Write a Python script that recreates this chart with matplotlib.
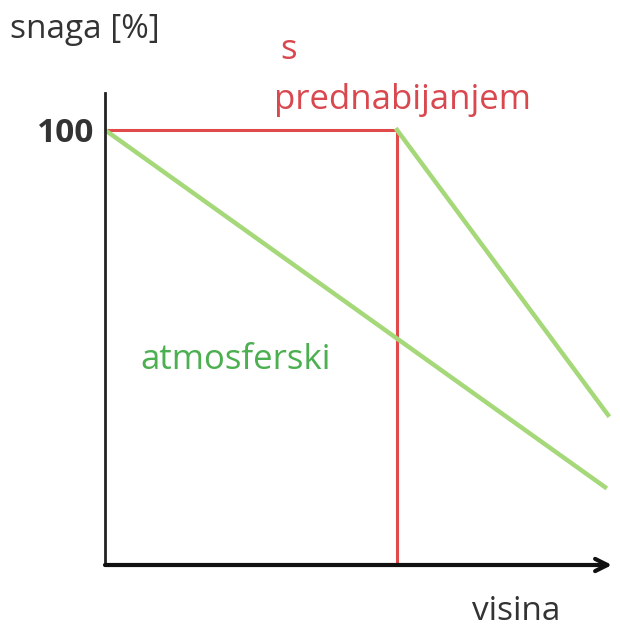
import matplotlib.pyplot as plt

# visina (arbitrary units) and snaga [%]
turbo_x = [0, 58.4, 58.4]
turbo_y = [100, 100, 0]
atmos_x = [0, 100]
atmos_y = [100, 17.9]
turbo_drop_x = [58.4, 100.6]
turbo_drop_y = [100, 34.5]
y_ticks = [100]
y_tick_labels = ["100"]

plt.rcParams['font.family'] = ['Open Sans', 'DejaVu Sans']

fig = plt.figure(figsize=(6.2, 6.28), dpi=100)
ax = fig.add_axes([105 / 620, 63 / 628, 507 / 620, 472 / 628])
ax.set_xlim(0, 101.4)
ax.set_ylim(0, 108.5)

ax.plot(turbo_x, turbo_y, color="#e04a4a", lw=2.2, solid_capstyle="butt")
ax.plot(atmos_x, atmos_y, color="#a5d879", lw=3.2)
ax.plot(turbo_drop_x, turbo_drop_y, color="#a5d879", lw=3.2)

for s in ["top", "right", "bottom"]:
    ax.spines[s].set_visible(False)
ax.spines["left"].set_linewidth(2)
ax.spines["left"].set_color("#222222")
ax.annotate("", xy=(101.4, 0), xytext=(0, 0), annotation_clip=False,
            arrowprops=dict(arrowstyle="->", color="#111111", lw=3,
                            mutation_scale=22, shrinkA=0, shrinkB=0))

ax.set_xticks([])
ax.set_yticks(y_ticks)
ax.set_yticklabels(y_tick_labels, fontsize=24, fontweight="bold", color="#333333")
ax.tick_params(axis="y", length=0, pad=8)

fig.text(10 / 620, 1 - 30 / 628, "snaga [%]", fontsize=24, color="#333333",
         ha="left", va="center")
fig.text(560 / 620, 1 - 612 / 628, "visina", fontsize=24, color="#333333",
         ha="right", va="center")
fig.text(280 / 620, 1 - 50 / 628, "s", fontsize=25, color="#d9474f",
         ha="left", va="center")
fig.text(274 / 620, 1 - 100 / 628, "prednabijanjem", fontsize=25, color="#d9474f",
         ha="left", va="center")
fig.text(140 / 620, 1 - 360 / 628, "atmosferski", fontsize=25, color="#4caf50",
         ha="left", va="center")

fig.savefig("out.png", dpi=100)
